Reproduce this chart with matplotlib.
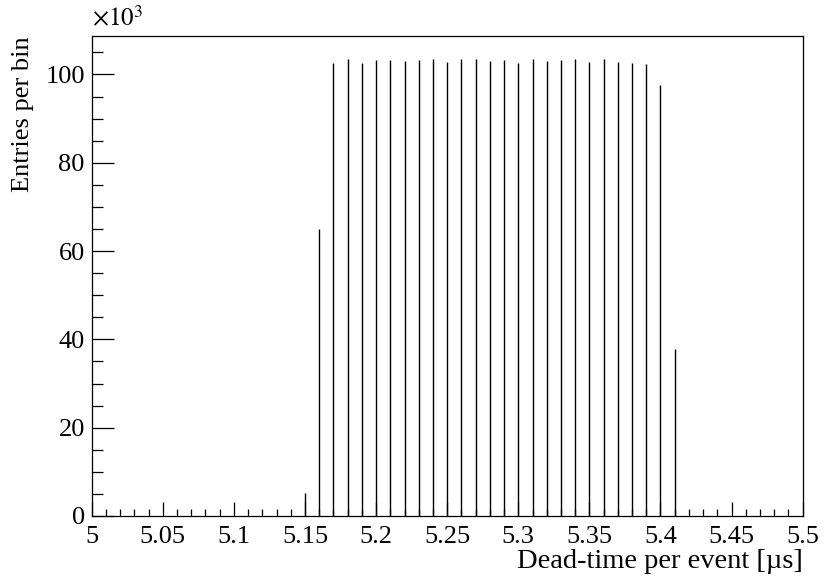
#!/usr/bin/env python3
""" dead-time per event histogram, ROOT style """

import matplotlib
matplotlib.use("Agg")
import matplotlib.pyplot as plt
from matplotlib.ticker import MultipleLocator, FuncFormatter

# bin centres [us] and entries per bin
dead_time = [5.15, 5.16, 5.17, 5.18, 5.19, 5.20, 5.21, 5.22, 5.23, 5.24,
             5.25, 5.26, 5.27, 5.28, 5.29, 5.30, 5.31, 5.32, 5.33, 5.34,
             5.35, 5.36, 5.37, 5.38, 5.39, 5.40, 5.41]
entries = [5300, 65100, 102600, 103500, 102600, 103300, 103200, 103100,
           103300, 103500, 102900, 103500, 103500, 103000, 103300, 102600,
           103400, 103100, 103300, 103500, 102900, 103500, 102900, 102600,
           102400, 97700, 37900]

plt.rcParams['font.family'] = ['Liberation Serif', 'DejaVu Serif']
plt.rcParams['mathtext.fontset'] = 'stix'

fig = plt.figure(figsize=(8.3, 5.78), dpi=100)
ax = fig.add_axes([0.1105, 0.1073, 0.8566, 0.8304])

ax.vlines(dead_time, 0, entries, color='black', linewidth=1.0)

ax.set_xlim(5.0, 5.5)
ax.set_ylim(0, 108700)

ax.xaxis.set_major_locator(MultipleLocator(0.05))
ax.xaxis.set_minor_locator(MultipleLocator(0.01))
ax.yaxis.set_major_locator(MultipleLocator(20000))
ax.yaxis.set_minor_locator(MultipleLocator(5000))
ax.xaxis.set_major_formatter(FuncFormatter(lambda v, p: '%g' % round(v, 3)))
ax.yaxis.set_major_formatter(FuncFormatter(lambda v, p: '%d' % round(v / 1000)))

ax.tick_params(axis='both', which='both', direction='in', top=False, right=False,
               labelsize=19, width=0.9)
ax.tick_params(axis='x', which='major', length=10, pad=7)
ax.tick_params(axis='x', which='minor', length=4.8)
ax.tick_params(axis='y', which='major', length=15.6, pad=5)
ax.tick_params(axis='y', which='minor', length=7.7)

for sp in ax.spines.values():
    sp.set_linewidth(0.9)

ax.set_xlabel('Dead-time per event [\u00b5s]', fontsize=20.5, loc='right', labelpad=1)
ax.set_ylabel('Entries per bin', fontsize=19, loc='top', labelpad=8)

ax.text(0.0, 1.01, r'$\times10^{3}$', transform=ax.transAxes, fontsize=18,
        ha='left', va='bottom')

plt.savefig("out.png", dpi=100)
